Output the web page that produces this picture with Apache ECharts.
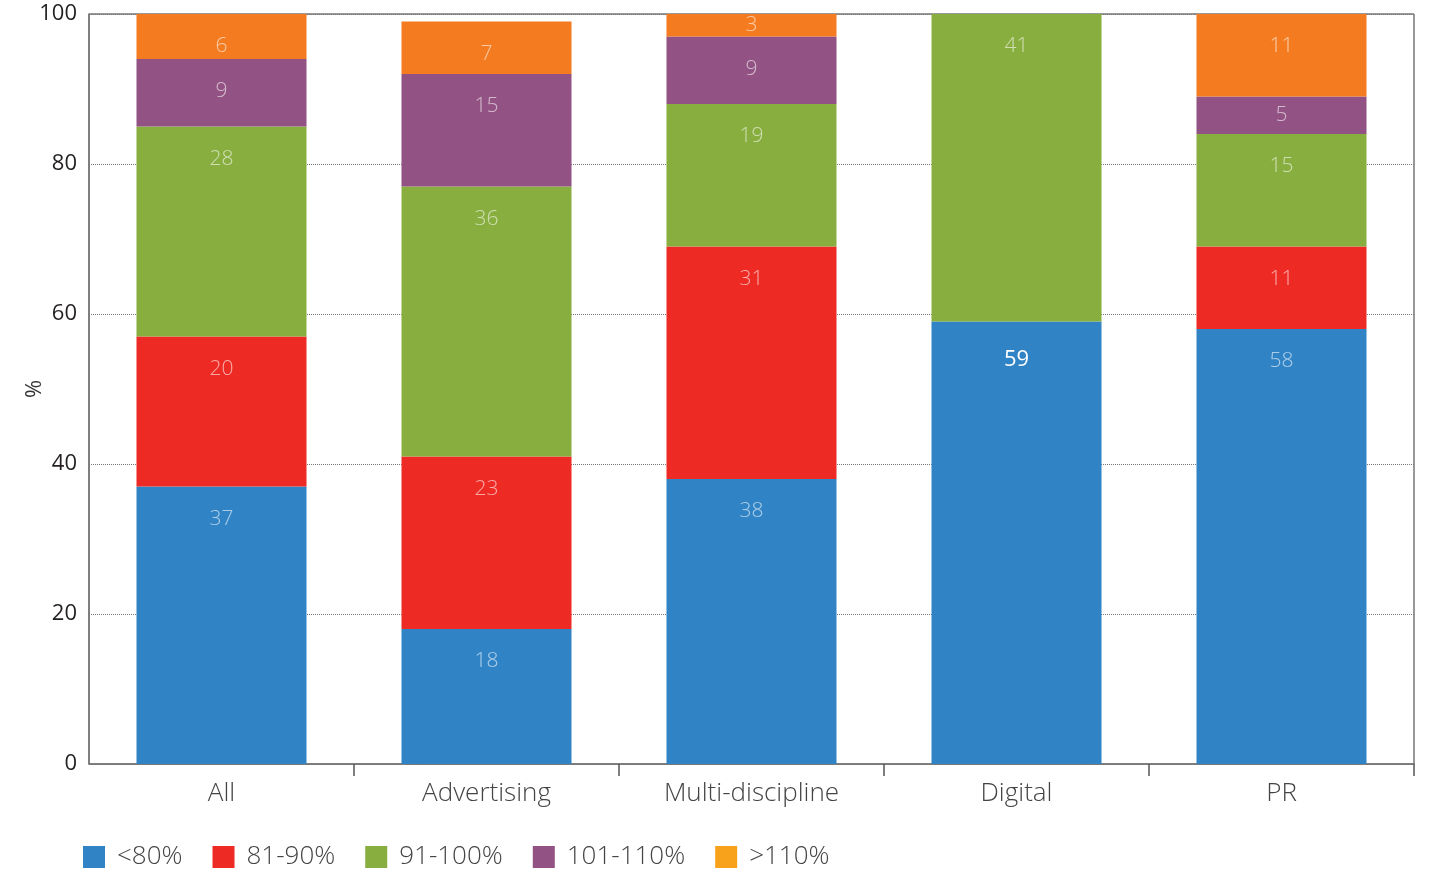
<!DOCTYPE html>
<html>
<head>
<meta charset="utf-8">
<script src="https://cdn.jsdelivr.net/npm/echarts@6/dist/echarts.min.js"></script>
<style>
  html, body { margin: 0; padding: 0; background: #fff; }
  #chart { width: 1433px; height: 873px; }
</style>
</head>
<body>
<div id="chart"></div>
<script>
// categories and stacked series values (%)
var categories = ["All", "Advertising", "Multi-discipline", "Digital", "PR"];
var below80 = [37, 18, 38, 59, 58];
var from81to90 = [20, 23, 31, 0, 11];
var from91to100 = [28, 36, 19, 41, 15];
var from101to110 = [9, 15, 9, 0, 5];
var above110 = [6, 7, 3, 0, 11];
var yTicks = [0, 20, 40, 60, 80, 100];

var seriesNames = ["<80%", "81-90%", "91-100%", "101-110%", ">110%"];
var seriesData = [below80, from81to90, from91to100, from101to110, above110];
var barColors = ["#3083c5", "#ee2a24", "#88ae3f", "#925284", "#f47b20"];
var legendColors = ["#3083c5", "#ee2a24", "#88ae3f", "#925284", "#f8a21c"];

var font = "'Open Sans', sans-serif";

var chart = echarts.init(document.getElementById("chart"));

function buildData(values, s) {
  return values.map(function (v, i) {
    var item = { value: v };
    // short segments: keep the label centred
    if (v <= 5) {
      item.label = { position: "inside" };
    }
    // the Digital <80% label is drawn bright white in the original
    if (s === 0 && i === 3) {
      item.label = { color: "#ffffff", fontWeight: 400, fontSize: 22, distance: 27 };
    }
    return item;
  });
}

var series = seriesNames.map(function (name, s) {
  return {
    name: name,
    type: "bar",
    stack: "total",
    barWidth: 170,
    data: buildData(seriesData[s], s),
    itemStyle: { color: barColors[s] },
    label: {
      show: true,
      position: "insideTop",
      distance: 22,
      fontFamily: font,
      fontWeight: 300,
      fontSize: 21,
      color: "rgba(255,255,255,0.6)",
      formatter: function (p) {
        return p.value ? String(p.value) : "";
      },
    },
  };
});

chart.setOption({
  animation: false,
  textStyle: { fontFamily: font },
  grid: {
    left: 89,
    right: 19,
    top: 14,
    bottom: 109,
    show: true,
    borderColor: "#333",
    borderWidth: 1,
  },
  legend: {
    left: 78,
    top: 839,
    itemWidth: 22,
    itemHeight: 22,
    itemGap: 30,
    icon: "rect",
    textStyle: {
      fontSize: 26,
      fontWeight: 300,
      color: "#444",
      fontFamily: font,
      padding: [0, 0, 0, 7],
    },
    data: seriesNames.map(function (n, i) {
      return { name: n, itemStyle: { color: legendColors[i] } };
    }),
  },
  xAxis: {
    type: "category",
    data: categories,
    axisLine: { lineStyle: { color: "#777", width: 1.5 } },
    axisTick: {
      show: true,
      length: 12,
      lineStyle: { color: "#555", width: 1.5 },
      interval: function (index) {
        return index > 0 && index < categories.length;
      },
    },
    axisLabel: {
      fontSize: 26,
      fontWeight: 300,
      color: "#444",
      margin: 17,
      fontFamily: font,
    },
  },
  yAxis: {
    type: "value",
    min: yTicks[0],
    max: yTicks[yTicks.length - 1],
    interval: 20,
    name: "%",
    nameLocation: "middle",
    nameGap: 43,
    nameMoveOverlap: false,
    nameRotate: 90,
    nameTextStyle: { fontSize: 22, color: "#333", fontFamily: font },
    axisLine: { show: true, lineStyle: { color: "#777", width: 1.5 } },
    axisTick: { show: false },
    axisLabel: {
      fontSize: 22,
      fontWeight: 500,
      color: "#231f20",
      margin: 12,
      fontFamily: font,
    },
    splitLine: {
      lineStyle: { color: "#777", type: "dotted", width: 1 },
    },
  },
  series: series,
});
</script>
</body>
</html>
